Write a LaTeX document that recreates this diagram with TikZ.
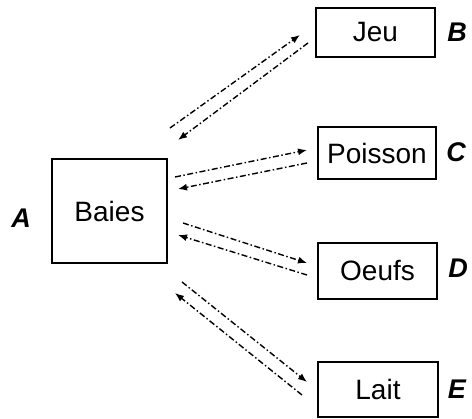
\documentclass[tikz,border=0pt]{standalone}
\usepackage{fontspec}
\setmainfont{Liberation Sans}
\usetikzlibrary{arrows.meta}
\begin{document}
\begin{tikzpicture}[x=1pt,y=-1pt,
  box/.style={draw,line width=1.2pt,inner sep=0pt,font=\fontsize{28}{32}\selectfont},
  tag/.style={inner sep=0pt,font=\fontsize{27}{30}\selectfont\bfseries\itshape},
  link/.style={line width=1.4pt,dash pattern=on 6pt off 2.5pt on 1.5pt off 2.5pt,
    -{Latex[length=9pt,width=7pt]}}]
\useasboundingbox[fill=white] (0,0) rectangle (472,419);

% boxes
\node[box,minimum width=115pt,minimum height=104pt] (baies) at (109.5,211) {Baies};
\node[box,minimum width=119pt,minimum height=49pt] (jeu) at (375.5,32.5) {Jeu};
\node[box,minimum width=118pt,minimum height=52pt] (poisson) at (377,153) {Poisson};
\node[box,minimum width=119pt,minimum height=56pt] (oeufs) at (377.5,271) {Oeufs};
\node[box,minimum width=120pt,minimum height=55pt] (lait) at (378,389.5) {Lait};

% letters
\node[tag] (la) at (21,218) {A};
\node[tag] (lb) at (457,32) {B};
\node[tag] (lc) at (456,152) {C};
\node[tag] (ld) at (458,268) {D};
\node[tag] (le) at (457,389) {E};

% connector ends
\coordinate (j1) at (170,128); \coordinate (j2) at (300,35);
\coordinate (j3) at (308,43);  \coordinate (j4) at (178,140);
\coordinate (p1) at (175,177); \coordinate (p2) at (307,150);
\coordinate (p3) at (307,163); \coordinate (p4) at (178,189);
\coordinate (o1) at (183,223); \coordinate (o2) at (307,263);
\coordinate (o3) at (307,275); \coordinate (o4) at (178,235);
\coordinate (l1) at (182,282); \coordinate (l2) at (307,382);
\coordinate (l3) at (302,395); \coordinate (l4) at (175,293);

% connectors
\draw[link] (j1) -- (j2);
\draw[link] (j3) -- (j4);
\draw[link] (p1) -- (p2);
\draw[link] (p3) -- (p4);
\draw[link] (o1) -- (o2);
\draw[link] (o3) -- (o4);
\draw[link] (l1) -- (l2);
\draw[link] (l3) -- (l4);
\end{tikzpicture}
\end{document}
